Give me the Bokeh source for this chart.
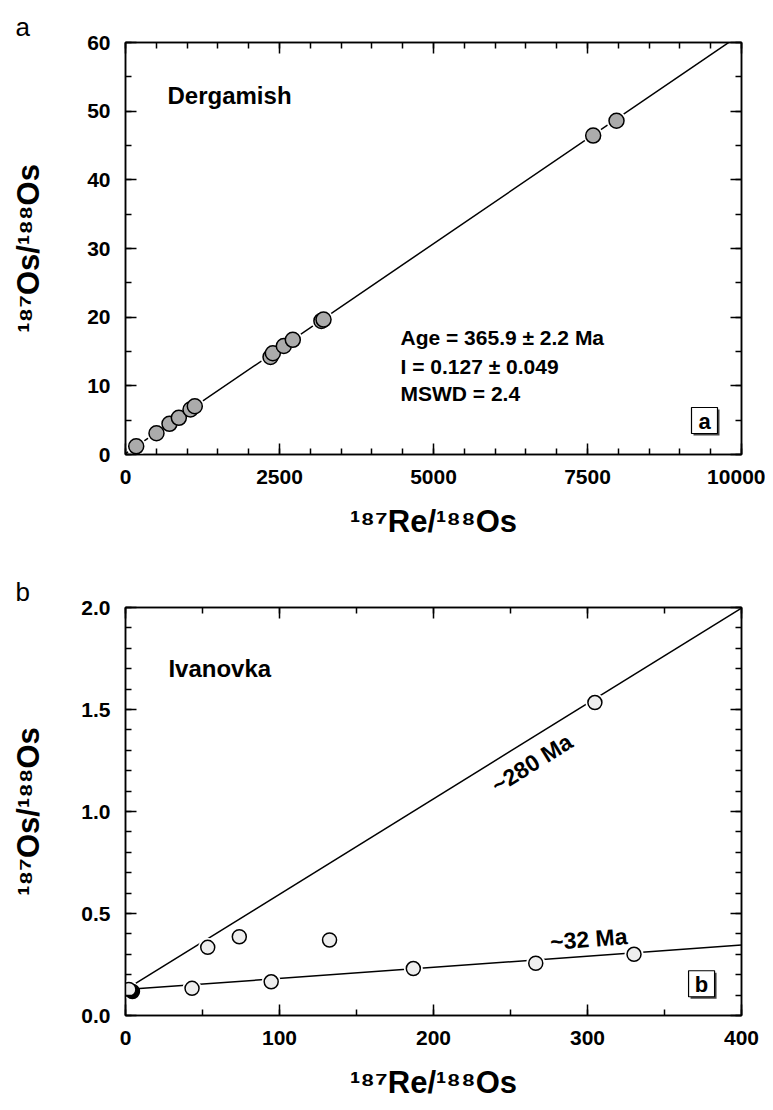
import math
from bokeh.plotting import figure
from bokeh.models import Range1d, LinearAxis, FixedTicker, NumeralTickFormatter, Label
from bokeh.layouts import column
from bokeh.embed import file_html
from bokeh.resources import INLINE

# ---------------- data ----------------
# Panel a: Dergamish
derg_re = [174, 503, 714, 866, 1055, 1125, 2354, 2392, 2570, 2716, 3180, 3215, 7592, 7971]
derg_os = [1.19, 3.1, 4.47, 5.34, 6.55, 7.03, 14.2, 14.75, 15.8, 16.7, 19.45, 19.65, 46.45, 48.6]
derg_line_re = [0, 10000]
derg_line_os = [0.127, 61.27]
derg_x_ticks = [0, 2500, 5000, 7500, 10000]
derg_y_ticks = [0, 10, 20, 30, 40, 50, 60]

# Panel b: Ivanovka
ivan_re = [2.2, 43.2, 53.4, 73.9, 94.6, 132.5, 186.9, 266.4, 304.8, 330.2]
ivan_os = [0.128, 0.133, 0.334, 0.386, 0.165, 0.370, 0.230, 0.256, 1.534, 0.300]
ivan_black_re = [4.5]
ivan_black_os = [0.118]
iso280_re = [0, 400]
iso280_os = [0.127, 1.997]
iso32_re = [0, 400]
iso32_os = [0.127, 0.345]
ivan_x_ticks = [0, 100, 200, 300, 400]
ivan_y_ticks = [0.0, 0.5, 1.0, 1.5, 2.0]

X_TITLE = "\u00b9\u2078\u2077Re/\u00b9\u2078\u2078Os"
Y_TITLE = "\u00b9\u2078\u2077Os/\u00b9\u2078\u2078Os"

FONT = "Liberation Sans"


def make_panel(height, bl, br, bt, bb, xr, yr, xt, xmin_step, yt, ymin_step, yfmt, xfmt,
               ystand, xstand, letter):
    p = figure(width=765, height=height, x_range=Range1d(*xr), y_range=Range1d(*yr),
               output_backend="svg", toolbar_location=None, tools="",
               min_border_left=bl, min_border_right=br, min_border_top=bt, min_border_bottom=bb)
    p.xgrid.visible = False
    p.ygrid.visible = False
    p.outline_line_color = "black"
    p.outline_line_width = 1.5
    p.background_fill_color = "white"
    p.border_fill_color = "white"
    p.add_layout(LinearAxis(), "above")
    p.add_layout(LinearAxis(), "right")
    xminor = []
    v = xr[0]
    while v <= xr[1] + 1e-9:
        xminor.append(round(v, 6))
        v += xmin_step
    yminor = []
    v = yr[0]
    while v <= yr[1] + 1e-9:
        yminor.append(round(v, 6))
        v += ymin_step
    for ax in p.xaxis:
        ax.ticker = FixedTicker(ticks=xt, minor_ticks=xminor)
        ax.formatter = NumeralTickFormatter(format=xfmt)
    for ax in p.yaxis:
        ax.ticker = FixedTicker(ticks=yt, minor_ticks=yminor)
        ax.formatter = NumeralTickFormatter(format=yfmt)
    for ax in list(p.xaxis) + list(p.yaxis):
        ax.major_tick_in = 11
        ax.major_tick_out = 0
        ax.minor_tick_in = 6
        ax.minor_tick_out = 0
        ax.axis_line_width = 1.5
        ax.major_tick_line_width = 1.5
        ax.minor_tick_line_width = 1.5
        ax.axis_line_color = "black"
        ax.major_tick_line_color = "black"
        ax.minor_tick_line_color = "black"
        ax.major_label_text_font = FONT
        ax.major_label_text_font_style = "bold"
        ax.major_label_text_font_size = "21px"
        ax.major_label_text_color = "black"
        ax.major_label_standoff = 15
    for ax in p.above:
        ax.major_label_overrides = {t: "" for t in xt}
        ax.major_label_text_font_size = "1px"
        ax.major_label_standoff = 0
    for ax in p.right:
        ax.major_label_overrides = {t: "" for t in yt}
        ax.major_label_text_font_size = "1px"
        ax.major_label_standoff = 0
    bx = p.below[0]
    bx.axis_label = X_TITLE
    bx.axis_label_standoff = xstand
    ly = p.left[0]
    ly.axis_label = Y_TITLE
    ly.axis_label_standoff = ystand
    for ax in (bx, ly):
        ax.axis_label_text_font = FONT
        ax.axis_label_text_font_style = "bold"
        ax.axis_label_text_font_size = "31px"
        ax.axis_label_text_color = "black"
    p.title.text = letter
    p.title.align = "left"
    p.title.offset = -(bl - 15)
    p.title.text_font = FONT
    p.title.text_font_style = "normal"
    p.title.text_font_size = "26px"
    p.title.text_color = "black"
    p.title.standoff = 2
    return p


def converter(L, T, W, H, xr, yr):
    def conv(px, py):
        x = xr[0] + (px - L) / W * (xr[1] - xr[0])
        y = yr[0] + (T + H - py) / H * (yr[1] - yr[0])
        return x, y
    return conv


def add_label(p, conv, px, py, text, size, angle=0.0, align="left", baseline="alphabetic", style="bold"):
    x, y = conv(px, py)
    p.add_layout(Label(x=x, y=y, text=text, text_font=FONT, text_font_size=f"{size}px",
                       text_font_style=style, text_align=align, text_baseline=baseline,
                       angle=angle, text_color="black"))


def add_box(p, conv, cx, cy, letter):
    x, y = conv(cx + 2, cy + 2)
    p.rect(x=[x], y=[y], width=26, height=26, width_units="screen", height_units="screen",
           fill_color="#444444", line_color=None)
    x, y = conv(cx, cy)
    p.rect(x=[x], y=[y], width=26, height=26, width_units="screen", height_units="screen",
           fill_color="white", line_color="black", line_width=1.2)
    add_label(p, conv, cx, cy + 1, letter, 22, align="center", baseline="middle")


# ---------------- panel a ----------------
xr_a, yr_a = (0, 10000), (0, 60)
pa = make_panel(548, 125, 24, 42, 94, xr_a, yr_a, derg_x_ticks, 500, derg_y_ticks, 5, "0", "0",
                38, 17, "a")
ca = converter(125, 42, 616, 412, xr_a, yr_a)
pa.line(derg_line_re, derg_line_os, line_color="black", line_width=1.5)
pa.scatter(derg_re, derg_os, size=20, fill_color="white", line_color=None)
pa.scatter(derg_re, derg_os, size=15, fill_color="#ababab", line_color="black", line_width=1.5)
add_label(pa, ca, 167, 95, "Dergamish", 24)
add_label(pa, ca, 400, 337, "Age = 365.9 \u00b1 2.2 Ma", 21)
add_label(pa, ca, 400, 366, "I = 0.127 \u00b1 0.049", 21)
add_label(pa, ca, 400, 393, "MSWD = 2.4", 21)
add_box(pa, ca, 704, 420, "a")

# ---------------- panel b ----------------
xr_b, yr_b = (0, 400), (0, 2.0)
pb = make_panel(554, 125, 23, 59, 84, xr_b, yr_b, ivan_x_ticks, 50, ivan_y_ticks, 0.1, "0.0", "0",
                32, 17, "b")
cb = converter(125, 607, 617, 411, xr_b, yr_b)
pb.line(iso280_re, iso280_os, line_color="black", line_width=1.5)
pb.line(iso32_re, iso32_os, line_color="black", line_width=1.5)
pb.scatter(ivan_re, ivan_os, size=19, fill_color="white", line_color=None)
pb.scatter(ivan_black_re, ivan_black_os, size=14, fill_color="black", line_color="black", line_width=1.5)
pb.scatter(ivan_re, ivan_os, size=14, fill_color="#eeeeee", line_color="black", line_width=1.5)
add_label(pb, cb, 168, 668, "Ivanovka", 24)
add_label(pb, cb, 532, 764, "~280 Ma", 23, angle=math.atan2(385, 617), align="center", baseline="middle")
add_label(pb, cb, 589, 941, "~32 Ma", 23, angle=0.075, align="center", baseline="middle")
add_box(pb, cb, 702, 986, "b")

layout = column(pa, pb, spacing=0)
open("out.html", "w").write(file_html(layout, INLINE))
